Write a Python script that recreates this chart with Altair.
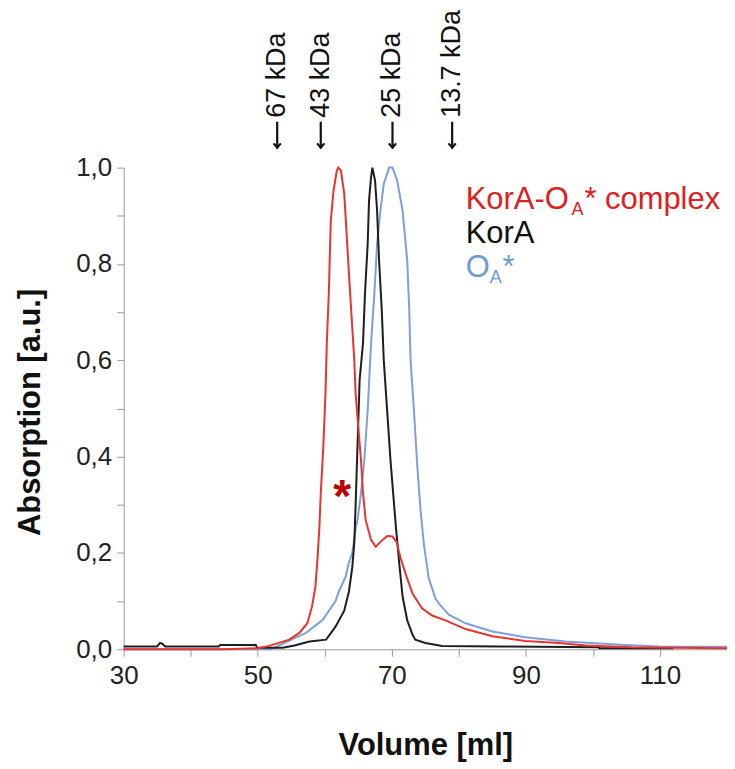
import altair as alt
import pandas as pd

FONT = "Liberation Sans"

# ---- chromatogram traces ----
red_vol = [30, 45, 50, 51.7, 54.7, 56.2, 57.4, 58.1, 58.6, 58.9, 59.2, 59.4, 59.8, 60.1, 60.3, 60.6,
           60.8, 60.9, 61.3, 61.8, 62.0, 62.4, 62.9, 63.2, 63.6, 64.0, 64.4, 64.6, 65.0, 65.4, 65.7,
           66.1, 66.9, 67.6, 68.3, 69.3, 70.1, 70.7, 71.3, 72.1, 73.1, 74.5, 76.0, 78.0, 81.0, 85.0,
           89.9, 94.9, 98.9, 105.8, 112, 120]
red_abs = [0, 0, 0.002, 0.007, 0.02, 0.034, 0.054, 0.089, 0.13, 0.185, 0.255, 0.324, 0.427, 0.53,
           0.635, 0.739, 0.842, 0.89, 0.952, 0.994, 1.0, 0.994, 0.946, 0.876, 0.78, 0.69, 0.6, 0.53,
           0.462, 0.393, 0.324, 0.268, 0.227, 0.213, 0.223, 0.235, 0.234, 0.223, 0.19, 0.155, 0.115,
           0.085, 0.07, 0.06, 0.042, 0.027, 0.017, 0.013, 0.008, 0.004, 0.003, 0.002]

black_vol = [30, 35.0, 35.4, 35.7, 36.2, 44.2, 44.4, 49.7, 49.9, 53.7, 55.5, 57.7, 60.2, 61.6, 62.9,
             63.6, 64.1, 64.4, 64.6, 64.9, 65.2, 65.7, 66.0, 66.4, 66.6, 66.9, 67.1, 67.5, 67.8, 68.1,
             68.5, 68.8, 69.3, 69.8, 70.2, 70.6, 71.1, 71.6, 72.3, 73.1, 73.5, 75.0, 77.5, 86, 100.8,
             101, 110, 112]
black_abs = [0.006, 0.006, 0.013, 0.012, 0.006, 0.006, 0.009, 0.009, 0.003, 0.003, 0.008, 0.016, 0.02,
             0.047, 0.08, 0.12, 0.17, 0.22, 0.30, 0.43, 0.56, 0.635, 0.739, 0.842, 0.932, 0.98, 1.0,
             0.973, 0.911, 0.807, 0.704, 0.60, 0.496, 0.393, 0.324, 0.255, 0.18, 0.11, 0.06, 0.03,
             0.02, 0.013, 0.007, 0.006, 0.004, 0.002, 0.002, 0.002]

blue_vol = [30, 52, 54.7, 57.2, 59.7, 61.6, 62.1, 63.1, 63.6, 64.1, 64.6, 64.9, 65.4, 65.9, 66.4, 66.9,
            67.4, 67.8, 68.3, 68.8, 69.6, 70.1, 70.8, 71.6, 72.3, 72.6, 72.8, 73.3, 73.8, 74.3, 74.8,
            75.5, 76.5, 77.0, 78.5, 81.0, 85.0, 89.9, 95.9, 104.8, 109.8, 120]
blue_abs = [0, 0, 0.018, 0.034, 0.061, 0.10, 0.12, 0.15, 0.18, 0.2, 0.25, 0.27, 0.324, 0.393, 0.496,
            0.635, 0.739, 0.842, 0.911, 0.966, 1.0, 1.0, 0.973, 0.911, 0.807, 0.704, 0.60, 0.496, 0.38,
            0.286, 0.216, 0.148, 0.106, 0.095, 0.072, 0.054, 0.037, 0.025, 0.016, 0.009, 0.006, 0.005]

series_names = ["OA*", "KorA", "KorA-OA* complex"]
series_colors = ["#7f9fdc", "#1e1e1e", "#e8352c"]

# ---- marker annotations ----
marker_labels = ["67 kDa", "43 kDa", "25 kDa", "13.7 kDa"]
marker_vol = [52.9, 59.4, 70.1, 79.0]

x_ticks = list(range(30, 121, 10))
y_ticks = [round(i * 0.1, 1) for i in range(11)]

rows = []
for name, vols, vals in [(series_names[0], blue_vol, blue_abs),
                         (series_names[1], black_vol, black_abs),
                         (series_names[2], red_vol, red_abs)]:
    for i, (v, a) in enumerate(zip(vols, vals)):
        rows.append({"series": name, "vol": v, "absorb": a, "idx": i})
df = pd.DataFrame(rows)

AX = "#9a9a9a"

x_axis = alt.Axis(values=x_ticks, labelExpr="datum.value % 20 == 10 ? datum.label : ''",
                  format="d", title="Volume [ml]", grid=False, domainColor=AX, tickColor=AX,
                  tickSize=7, labelFontSize=26, labelFont=FONT, labelColor="#222222",
                  labelPadding=6, labelFlush=False, labelOverlap=False,
                  titleFont=FONT, titleFontSize=31, titleFontWeight="bold", titleColor="#111111",
                  titleBaseline="alphabetic", titleY=106)
y_axis = alt.Axis(values=y_ticks,
                  labelExpr="round(datum.value*10) % 2 == 0 ? replace(format(datum.value, '.1f'), '.', ',') : ''",
                  title="Absorption [a.u.]", grid=False, domainColor=AX, tickColor=AX,
                  tickSize=7, labelFontSize=26, labelFont=FONT, labelColor="#222222",
                  labelPadding=5, labelFlush=False, labelOverlap=False,
                  titleFont=FONT, titleFontSize=31, titleFontWeight="bold", titleColor="#111111",
                  titleAngle=270, titleBaseline="alphabetic", titleAlign="center",
                  titleX=-84, titleY=245)

xs = alt.Scale(domain=[30, 120], nice=False, zero=False)
ys = alt.Scale(domain=[0, 1], nice=False)

lines = alt.Chart(df).mark_line(strokeWidth=2).encode(
    x=alt.X("vol:Q", scale=xs, axis=x_axis),
    y=alt.Y("absorb:Q", scale=ys, axis=y_axis),
    color=alt.Color("series:N", scale=alt.Scale(domain=series_names, range=series_colors), legend=None),
    order="idx:Q",
)

mdf = pd.DataFrame({"label": marker_labels, "vol": marker_vol})

marker_text = alt.Chart(mdf).mark_text(
    angle=270, align="left", baseline="middle", font=FONT, fontSize=27, color="#111111", dx=1
).encode(x=alt.X("vol:Q", scale=xs), y=alt.value(-49), text="label:N")

arrow_shaft = alt.Chart(mdf).mark_rule(color="#111111", strokeWidth=2.2).encode(
    x=alt.X("vol:Q", scale=xs), y=alt.value(-46), y2=alt.value(-19)
)
arrow_head = alt.Chart(mdf).mark_point(
    shape="M-0.6,-0.7 L0,0 L0.6,-0.7", filled=False, size=150, color="#111111", strokeWidth=2.2, opacity=1
).encode(x=alt.X("vol:Q", scale=xs), y=alt.value(-20))

star = alt.Chart(pd.DataFrame({"vol": [62.6], "absorb": [0.315], "t": ["*"]})).mark_text(
    font=FONT, fontSize=46, fontWeight="bold", color="#c00000", baseline="middle", align="center"
).encode(x=alt.X("vol:Q", scale=xs), y=alt.Y("absorb:Q", scale=ys), text="t:N")

RED_T, BLK_T, BLU_T = "#e02020", "#111111", "#6e9ad6"

def txt(s, x, y, color, size=31):
    return alt.Chart(pd.DataFrame({"t": [s]})).mark_text(
        font=FONT, fontSize=size, color=color, align="left", baseline="alphabetic"
    ).encode(x=alt.value(x), y=alt.value(y), text="t:N")

legend = [
    txt("KorA-O", 343, 42, RED_T), txt("A", 449, 48, RED_T, 18), txt("* complex", 462, 42, RED_T),
    txt("KorA", 343, 76, BLK_T),
    txt("O", 343, 110, BLU_T), txt("A", 367, 116, BLU_T, 18), txt("*", 380, 110, BLU_T),
]

chart = alt.layer(lines, arrow_shaft, arrow_head, marker_text, star, *legend).properties(
    width=605, height=483,
    autosize=alt.AutoSizeParams(type="none"),
    padding={"left": 116, "top": 159, "right": 0, "bottom": 118},
    background="white",
).configure_view(stroke=None)

chart.save("out.html", embed_options={"renderer": "svg", "actions": False})
